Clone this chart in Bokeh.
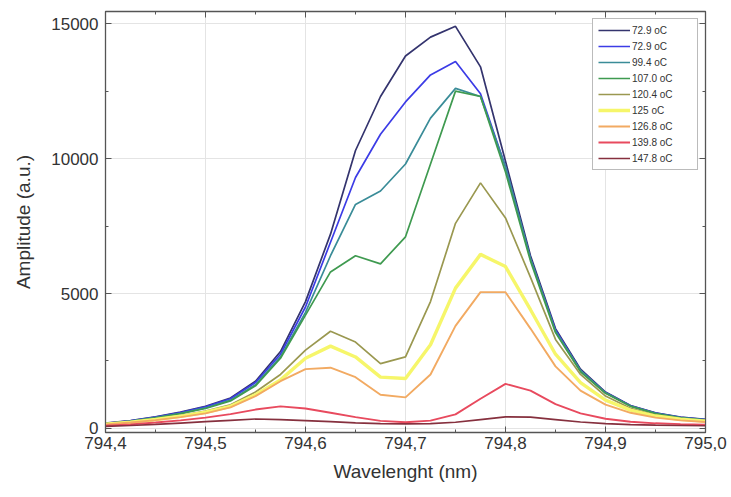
from bokeh.plotting import figure
from bokeh.models import (LinearAxis, FixedTicker, CustomJSTickFormatter, Legend,
                          LegendItem, Range1d)
from bokeh.embed import file_html
from bokeh.resources import INLINE

wavelength = [794.400, 794.425, 794.450, 794.475, 794.500, 794.525, 794.550, 794.575,
              794.600, 794.625, 794.650, 794.675, 794.700, 794.725, 794.750, 794.775,
              794.800, 794.825, 794.850, 794.875, 794.900, 794.925, 794.950, 794.975,
              795.000]

labels = ["72.9 oC", "72.9 oC", "99.4 oC", "107.0 oC", "120.4 oC", "125 oC",
          "126.8 oC", "139.8 oC", "147.8 oC"]

amp_729a = [200, 290, 430, 610, 820, 1130, 1750, 2850, 4700, 7200, 10300, 12300, 13800,
            14500, 14900, 13400, 9900, 6400, 3700, 2200, 1350, 850, 580, 420, 340]
amp_729b = [190, 280, 420, 590, 800, 1100, 1700, 2750, 4500, 6900, 9300, 10900, 12100,
            13100, 13600, 12400, 9700, 6300, 3650, 2150, 1330, 840, 570, 410, 330]
amp_994 = [180, 270, 400, 560, 760, 1050, 1620, 2650, 4300, 6400, 8300, 8800, 9800,
           11500, 12600, 12300, 9700, 6300, 3600, 2150, 1320, 830, 560, 400, 320]
amp_1070 = [180, 260, 390, 550, 740, 1020, 1580, 2600, 4200, 5800, 6400, 6100, 7100,
            9800, 12500, 12300, 9500, 6200, 3550, 2100, 1300, 820, 550, 390, 310]
amp_1204 = [170, 240, 350, 480, 640, 880, 1350, 2000, 2900, 3600, 3200, 2400, 2650,
            4700, 7600, 9100, 7800, 5600, 3300, 2000, 1200, 750, 500, 360, 290]
amp_125 = [160, 230, 330, 450, 600, 820, 1250, 1800, 2600, 3050, 2650, 1900, 1850,
           3100, 5200, 6450, 6000, 4400, 2750, 1700, 1050, 680, 460, 340, 270]
amp_1268 = [150, 220, 310, 420, 560, 780, 1200, 1750, 2200, 2250, 1900, 1250, 1150,
            2000, 3800, 5050, 5050, 3700, 2300, 1400, 880, 580, 400, 300, 240]
amp_1398 = [100, 150, 220, 300, 400, 530, 700, 820, 740, 580, 420, 280, 230,
            290, 520, 1100, 1650, 1400, 900, 560, 360, 250, 190, 160, 140]
amp_1478 = [80, 110, 150, 200, 250, 300, 350, 330, 290, 250, 210, 180, 170,
            180, 230, 330, 430, 420, 330, 240, 180, 140, 120, 110, 100]

series = [amp_729a, amp_729b, amp_994, amp_1070, amp_1204, amp_125, amp_1268,
          amp_1398, amp_1478]
colors = ["#34346e", "#3c3ce6", "#3a8c98", "#3f9a50", "#9a9850", "#f6f66a",
          "#f2aa62", "#e84a5e", "#86303e"]
widths = [1.7, 1.7, 1.7, 1.7, 1.7, 3.4, 1.9, 1.9, 1.7]

x_ticks = [794.4, 794.5, 794.6, 794.7, 794.8, 794.9, 795.0]
x_minor = [794.45, 794.55, 794.65, 794.75, 794.85, 794.95]
y_ticks = [0, 5000, 10000, 15000]
y_minor = [2500, 7500, 12500]

p = figure(width=731, height=497, output_backend="svg", toolbar_location=None,
           x_range=Range1d(794.4, 795.0), y_range=Range1d(-150, 15450))
p.min_border_left = 105
p.min_border_right = 26
p.min_border_top = 11
p.min_border_bottom = 65
p.outline_line_color = "#555555"
p.outline_line_width = 1.3
p.background_fill_color = "white"
p.border_fill_color = "white"

items = []
for ys, c, w, lab in zip(series, colors, widths, labels):
    r = p.line(wavelength, ys, line_color=c, line_width=w)
    items.append(LegendItem(label=lab, renderers=[r]))

fmt = CustomJSTickFormatter(code="return tick.toFixed(1).replace('.', ',');")

def style_axis(ax, show_labels):
    ax.major_tick_in = 6
    ax.major_tick_out = 0
    ax.minor_tick_in = 3
    ax.minor_tick_out = 0
    ax.axis_line_color = "#555555"
    ax.major_tick_line_color = "#555555"
    ax.minor_tick_line_color = "#555555"
    ax.major_label_text_font = "Liberation Sans"
    ax.major_label_text_font_size = "17px"
    ax.major_label_text_color = "#333333"
    ax.axis_label_text_font = "Liberation Sans"
    ax.axis_label_text_font_size = "19px"
    ax.axis_label_text_font_style = "normal"
    ax.axis_label_text_color = "#333333"
    if not show_labels:
        ax.major_label_text_font_size = "0px"
        ax.major_label_text_color = None

xa = p.xaxis[0]
xa.ticker = FixedTicker(ticks=x_ticks, minor_ticks=x_minor)
xa.formatter = fmt
xa.axis_label = "Wavelenght (nm)"
style_axis(xa, True)
xa.major_label_standoff = 4
xa.axis_label_standoff = 9

ya = p.yaxis[0]
ya.ticker = FixedTicker(ticks=y_ticks, minor_ticks=y_minor)
ya.axis_label = "Amplitude (a.u.)"
style_axis(ya, True)
ya.major_label_standoff = 7
ya.axis_label_standoff = 14

top = LinearAxis(ticker=FixedTicker(ticks=x_ticks, minor_ticks=x_minor))
style_axis(top, False)
p.add_layout(top, "above")
right = LinearAxis(ticker=FixedTicker(ticks=y_ticks, minor_ticks=y_minor))
style_axis(right, False)
p.add_layout(right, "right")

p.xgrid.ticker = FixedTicker(ticks=x_ticks)
p.ygrid.ticker = FixedTicker(ticks=y_ticks)
p.grid.grid_line_color = "#e4e4e4"
p.grid.grid_line_width = 1

legend = Legend(items=items, location="top_right")
legend.margin = 7
legend.padding = 5
legend.spacing = 4
legend.label_height = 12
legend.glyph_height = 12
legend.glyph_width = 32
legend.label_standoff = 2
legend.label_width = 60
legend.label_text_font = "Liberation Sans"
legend.label_text_font_size = "10px"
legend.label_text_color = "#333333"
legend.border_line_color = "#777777"
legend.border_line_width = 1
legend.background_fill_alpha = 1.0
p.add_layout(legend)

open("out.html", "w").write(file_html(p, INLINE))
